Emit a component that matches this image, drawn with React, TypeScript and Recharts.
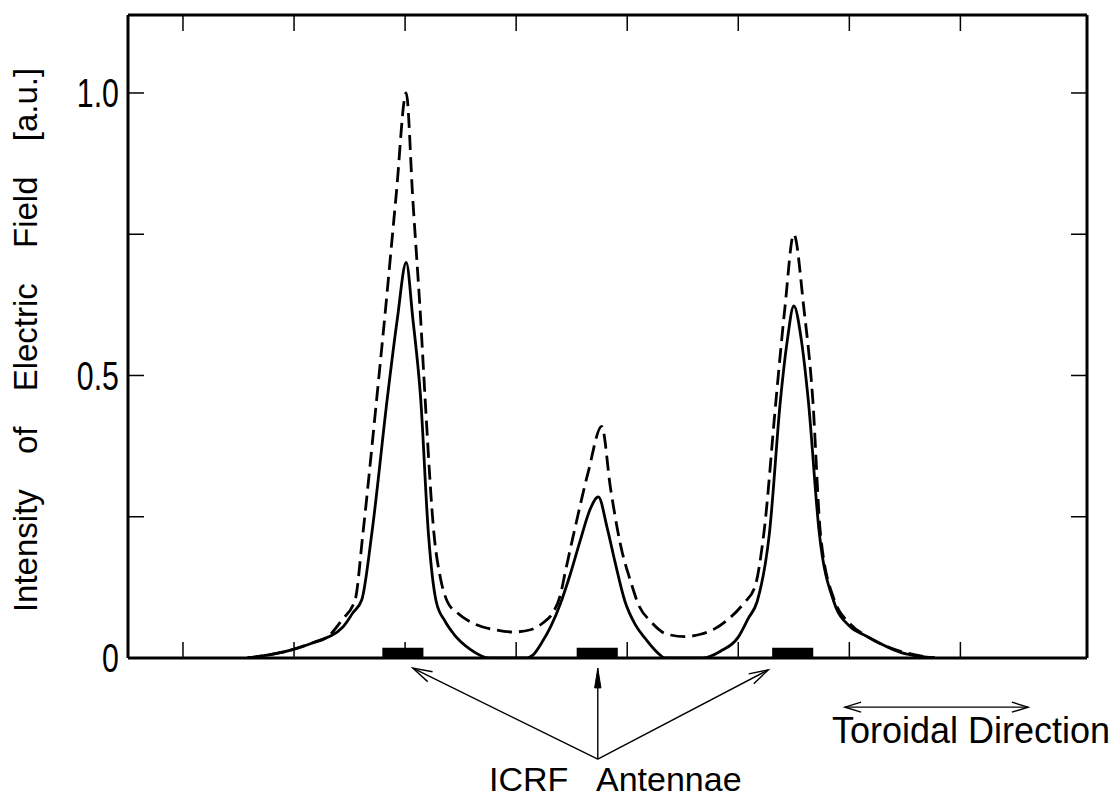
import React from 'react';
import { LineChart, Line, XAxis, YAxis, ReferenceArea, ReferenceLine } from 'recharts';

// Toroidal position (arbitrary units) and field intensity [a.u.]
const solidX = [15.8, 19.7, 21.7, 24.4, 25.3, 26.1, 27.0, 28.4, 29.3, 30.1, 30.7, 31.4, 32.1, 32.8, 33.6, 34.4, 35.9, 37.6, 41.0, 41.5, 42.3, 43.1, 44.0, 44.9, 45.8, 46.7, 47.4, 48.2, 48.9, 49.8, 50.7, 51.6, 52.7, 53.4, 56.8, 58.4, 60.0, 60.9, 61.7, 62.8, 63.8, 64.4, 65.0, 65.7, 66.3, 67.3, 68.6, 70.1, 71.4, 74.6, 77.7];
const solidY = [0, 0.014, 0.027, 0.055, 0.08, 0.103, 0.22, 0.46, 0.60, 0.70, 0.60, 0.46, 0.22, 0.10, 0.065, 0.042, 0.015, 0, 0, 0.005, 0.027, 0.055, 0.097, 0.15, 0.21, 0.265, 0.285, 0.23, 0.17, 0.10, 0.06, 0.035, 0.01, 0, 0, 0.012, 0.037, 0.07, 0.10, 0.22, 0.457, 0.56, 0.623, 0.56, 0.457, 0.22, 0.10, 0.055, 0.04, 0.01, 0];

const dashedX = [15.8, 19.7, 21.7, 23.0, 24.3, 25.5, 26.2, 27.4, 28.3, 29.2, 30.1, 30.7, 31.4, 31.8, 32.6, 33.2, 33.8, 34.7, 36.3, 38.1, 39.7, 41.3, 42.4, 43.3, 44.0, 44.4, 45.3, 46.5, 47.7, 48.5, 49.4, 50.4, 51.0, 52.1, 53.6, 55.2, 56.6, 57.9, 59.0, 60.5, 61.5, 62.3, 63.4, 64.2, 65.0, 65.9, 66.7, 67.4, 68.6, 70.1, 71.6, 74.6, 77.7];
const dashedY = [0, 0.014, 0.027, 0.037, 0.067, 0.103, 0.22, 0.45, 0.63, 0.82, 1.0, 0.81, 0.60, 0.46, 0.22, 0.14, 0.10, 0.08, 0.06, 0.05, 0.046, 0.05, 0.062, 0.08, 0.113, 0.15, 0.23, 0.33, 0.41, 0.30, 0.20, 0.13, 0.095, 0.065, 0.042, 0.038, 0.042, 0.052, 0.067, 0.097, 0.126, 0.22, 0.457, 0.62, 0.75, 0.62, 0.46, 0.22, 0.105, 0.06, 0.038, 0.012, 0];

// ICRF antenna positions
const antennaCenters = [29.8, 47.3, 64.9];
const antennaWidth = 3.7;
const antennaHeight = 0.018;

// Axes
const xDomain = [5.05, 91.4];
const xTicks = [10, 20, 30, 40, 50, 60, 70, 80];
const yDomain = [0, 1.138];
const yTicks = [0, 0.25, 0.5, 0.75, 1.0];
const yTickLabels: Record<string, string> = { '0': '0', '0.5': '0.5', '1': '1.0' };

// Annotation arrows (data coordinates)
const arrowOrigin = { x: 47.35, y: -0.179 };
const arrowTips = [
  { x: 30.7, y: -0.018, kind: 'open' },
  { x: 47.35, y: -0.018, kind: 'filled' },
  { x: 62.7, y: -0.021, kind: 'open' },
];
const toroidalArrow = [{ x: 69.6, y: -0.087 }, { x: 86.1, y: -0.087 }];

const solidData = solidX.map((x, i) => ({ x, y: solidY[i] }));
const dashedData = dashedX.map((x, i) => ({ x, y: dashedY[i] }));

const FONT = '"Liberation Sans", Arial, sans-serif';
const TICK = 16;

const head = (x1: number, y1: number, x2: number, y2: number, L = 18, a = 0.28) => {
  const ang = Math.atan2(y2 - y1, x2 - x1);
  return [
    [x2 - L * Math.cos(ang - a), y2 - L * Math.sin(ang - a)],
    [x2, y2],
    [x2 - L * Math.cos(ang + a), y2 - L * Math.sin(ang + a)],
  ];
};

const arrowShape = (kind: string) => (p: any) => {
  const { x1, y1, x2, y2 } = p;
  const pts = kind === 'filled' ? head(x1, y1, x2, y2, 20, 0.16) : head(x1, y1, x2, y2, 20, 0.28);
  const s = pts.map((q) => `${q[0]},${q[1]}`).join(' ');
  return (
    <g>
      <line x1={x1} y1={y1} x2={x2} y2={y2} stroke="#000" strokeWidth={1.4} />
      {kind === 'filled' ? (
        <polygon points={s} fill="#000" stroke="#000" strokeWidth={1} />
      ) : (
        <polyline points={s} fill="none" stroke="#000" strokeWidth={1.4} />
      )}
    </g>
  );
};

const doubleArrowShape = (p: any) => {
  const { x1, y1, x2, y2 } = p;
  const h1 = head(x1, y1, x2, y2, 17, 0.3);
  const h2 = head(x2, y2, x1, y1, 17, 0.3);
  const s1 = h1.map((q) => `${q[0]},${q[1]}`).join(' ');
  const s2 = h2.map((q) => `${q[0]},${q[1]}`).join(' ');
  return (
    <g>
      <line x1={x1} y1={y1} x2={x2} y2={y2} stroke="#000" strokeWidth={1.4} />
      <polyline points={s1} fill="none" stroke="#000" strokeWidth={1.4} />
      <polyline points={s2} fill="none" stroke="#000" strokeWidth={1.4} />
    </g>
  );
};

const BottomTick = (p: any) => (
  <line x1={p.x} y1={p.y} x2={p.x} y2={p.y - TICK} stroke="#000" strokeWidth={1.5} />
);
const TopTick = (p: any) => (
  <line x1={p.x} y1={p.y} x2={p.x} y2={p.y + TICK} stroke="#000" strokeWidth={1.5} />
);
const RightTick = (p: any) => (
  <line x1={p.x} y1={p.y} x2={p.x - TICK} y2={p.y} stroke="#000" strokeWidth={1.5} />
);
const LeftTick = (p: any) => {
  const lbl = yTickLabels[String(p.payload.value)];
  return (
    <g>
      <line x1={p.x} y1={p.y} x2={p.x + TICK} y2={p.y} stroke="#000" strokeWidth={1.5} />
      {lbl !== undefined && (
        <g transform={`translate(${p.x - 9}, ${p.y}) scale(0.74, 1)`}>
          <text x={0} y={0} textAnchor="end" dominantBaseline="central" fontFamily={FONT} fontSize={41} fill="#000">
            {lbl}
          </text>
        </g>
      )}
    </g>
  );
};

const axisLine = { stroke: '#000', strokeWidth: 3 };

export default function App() {
  return (
    <div style={{ position: 'absolute', left: 0, top: 0, width: 1120, height: 801, background: '#fff' }}>
      <LineChart width={1120} height={801} margin={{ top: 14, right: 32, bottom: 142, left: 127 }}>
        <XAxis type="number" dataKey="x" domain={xDomain} ticks={xTicks} allowDataOverflow interval={0}
          orientation="bottom" height={1} tickSize={0} tickMargin={0} tickLine={false} axisLine={axisLine} tick={BottomTick} />
        <XAxis xAxisId="top" type="number" dataKey="x" domain={xDomain} ticks={xTicks} allowDataOverflow interval={0}
          orientation="top" height={1} tickSize={0} tickMargin={0} tickLine={false} axisLine={axisLine} tick={TopTick} />
        <YAxis type="number" domain={yDomain} ticks={yTicks} allowDataOverflow interval={0}
          orientation="left" width={1} tickSize={0} tickMargin={0} tickLine={false} axisLine={axisLine} tick={LeftTick} />
        <YAxis yAxisId="right" type="number" domain={yDomain} ticks={yTicks} allowDataOverflow interval={0}
          orientation="right" width={1} tickSize={0} tickMargin={0} tickLine={false} axisLine={axisLine} tick={RightTick} />

        {antennaCenters.map((c, i) => (
          <ReferenceArea key={`ant${i}`} x1={c - antennaWidth / 2} x2={c + antennaWidth / 2} y1={0} y2={antennaHeight}
            fill="#000" fillOpacity={1} stroke="none" ifOverflow="visible" />
        ))}

        <Line data={dashedData} dataKey="y" type="monotone" stroke="#000" strokeWidth={2.8} strokeDasharray="15 7"
          dot={false} activeDot={false} isAnimationActive={false} />
        <Line data={solidData} dataKey="y" type="monotone" stroke="#000" strokeWidth={2.8}
          dot={false} activeDot={false} isAnimationActive={false} />

        {arrowTips.map((t, i) => (
          <ReferenceLine key={`arr${i}`} segment={[arrowOrigin, { x: t.x, y: t.y }]} ifOverflow="visible"
            shape={arrowShape(t.kind)} />
        ))}
        <ReferenceLine segment={toroidalArrow} ifOverflow="visible" shape={doubleArrowShape} />
      </LineChart>
      <svg width={1120} height={801} style={{ position: 'absolute', left: 0, top: 0, pointerEvents: 'none' }}>
        <text x={37} y={340} transform="rotate(-90, 37, 340)" textAnchor="middle" fontFamily={FONT} fontSize={33}
          style={{ wordSpacing: '26px' }} fill="#000">
          Intensity of Electric Field [a.u.]
        </text>
        <text x={489} y={791} fontFamily={FONT} fontSize={34} fill="#000">ICRF</text>
        <text x={596} y={791} fontFamily={FONT} fontSize={34} fill="#000">Antennae</text>
        <text x={832} y={743} fontFamily={FONT} fontSize={36} fill="#000">Toroidal Direction</text>
      </svg>
    </div>
  );
}
